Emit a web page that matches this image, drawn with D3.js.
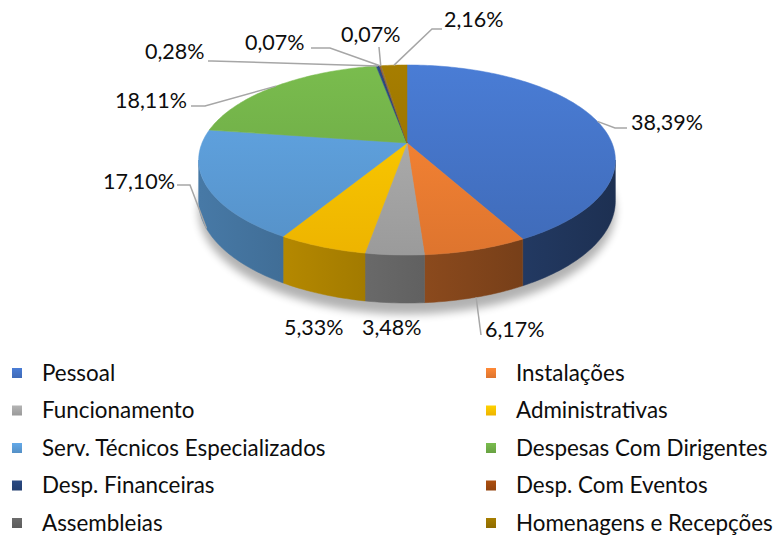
<!DOCTYPE html>
<html>
<head>
<meta charset="utf-8">
<script src="https://cdn.jsdelivr.net/npm/d3@7"></script>
<style>
  body { margin: 0; background: #fff; }
  svg text { font-family: Lato, "Open Sans", sans-serif; fill: #0d0d0d; }
</style>
</head>
<body>
<div id="chart"></div>
<script>
// data
const categories = ["Pessoal", "Instalações", "Funcionamento", "Administrativas",
  "Serv. Técnicos Especializados", "Despesas Com Dirigentes", "Desp. Financeiras",
  "Desp. Com Eventos", "Assembleias", "Homenagens e Recepções"];
const values = [38.39, 6.17, 3.48, 5.33, 17.10, 18.11, 0.28, 0.07, 0.07, 2.16];
const labels = ["38,39%", "6,17%", "3,48%", "5,33%", "17,10%", "18,11%", "0,28%", "0,07%", "0,07%", "2,16%"];
const colors = ["#4472C4", "#ED7D31", "#A5A5A5", "#FFC000", "#5B9BD5", "#70AD47",
  "#264478", "#9E480E", "#636363", "#997300"];

const width = 773, height = 536;

// 3d pie geometry (perspective tilt)
const cx = 407, cy = 143, RX = 205, RY = 92, depth = 39.4, persp = 0.179;
function proj(a, r, yb) {
  const X = r * Math.sin(a), Z = -r * Math.cos(a);
  const w = 1 - persp * Z;
  return [cx + RX * X / w, cy + (RY * Z + depth * yb) / w];
}
function rim(a0, a1, yb) {
  const n = Math.max(2, Math.ceil((a1 - a0) / 0.02));
  return d3.range(n + 1).map(i => proj(a0 + (a1 - a0) * i / n, 1, yb));
}

// label layout: text left/middle, and leader line (from slice rim to label)
const labelLayout = [
  { x: 631, y: 122, face: 0, line: [[615, 128], [627, 128]] },
  { x: 485, y: 329, face: 1, line: [[481, 335]] },
  { x: 362, y: 327, line: null },
  { x: 284, y: 327, line: null },
  { x: 103, y: 181, face: 1, line: [[190, 185], [177, 185]] },
  { x: 115, y: 100, face: 0, line: [[205, 106], [191, 106]] },
  { x: 145, y: 51, face: 0, line: [[212, 61], [208, 61]] },
  { x: 245, y: 42, face: 0, line: [[330, 48], [311, 48]] },
  { x: 341, y: 34, face: 0, line: [[379, 47]] },
  { x: 444, y: 19, face: 0, line: [[432, 29], [442, 29]] }
];

const svg = d3.select("#chart").append("svg")
  .attr("width", width).attr("height", height);
const defs = svg.append("defs");

const pie = d3.pie().sort(null).value(d => d)(values);

function scaleColor(c, f) {
  const k = d3.rgb(c);
  return d3.rgb(k.r * f, k.g * f, k.b * f).formatHex();
}

// gradients
colors.forEach((c, i) => {
  const g = defs.append("linearGradient").attr("id", "top" + i)
    .attr("gradientUnits", "userSpaceOnUse")
    .attr("x1", 0).attr("y1", 60).attr("x2", 0).attr("y2", 260);
  g.append("stop").attr("offset", 0).attr("stop-color", d3.color(c).brighter(0.25));
  g.append("stop").attr("offset", 1).attr("stop-color", d3.color(c).darker(0.2));

  const s = defs.append("linearGradient").attr("id", "side" + i)
    .attr("gradientUnits", "userSpaceOnUse")
    .attr("x1", 200).attr("y1", 0).attr("x2", 615).attr("y2", 0);
  s.append("stop").attr("offset", 0).attr("stop-color", scaleColor(c, 0.78));
  s.append("stop").attr("offset", 1).attr("stop-color", scaleColor(c, 0.42));

  const l = defs.append("linearGradient").attr("id", "leg" + i)
    .attr("x1", 0).attr("y1", 0).attr("x2", 0).attr("y2", 1);
  l.append("stop").attr("offset", 0).attr("stop-color", d3.color(c).brighter(0.25));
  l.append("stop").attr("offset", 1).attr("stop-color", d3.color(c).darker(0.2));
});

defs.append("filter").attr("id", "shadow")
  .attr("x", "-20%").attr("y", "-20%").attr("width", "140%").attr("height", "140%")
  .append("feGaussianBlur").attr("stdDeviation", 4);

const line = d3.line();

// shadow under the pie
const silA = Math.acos(-persp);
svg.append("path")
  .attr("d", line(rim(0, 2 * Math.PI, 1.15)) + "Z")
  .attr("transform", "translate(0,4)")
  .attr("fill", "#000").attr("opacity", 0.3)
  .attr("filter", "url(#shadow)");

// side walls (front-facing part only)
svg.append("g").selectAll("path")
  .data(pie.filter(d => d.endAngle > silA && d.startAngle < 2 * Math.PI - silA))
  .join("path")
  .attr("d", d => {
    const a0 = Math.max(d.startAngle, silA), a1 = Math.min(d.endAngle, 2 * Math.PI - silA);
    const pts = rim(a0, a1, 0).concat(rim(a0, a1, 1).reverse());
    return line(pts) + "Z";
  })
  .attr("fill", d => `url(#side${d.index})`)
  .attr("stroke", d => `url(#side${d.index})`).attr("stroke-width", 0.5);

// top faces
svg.append("g").selectAll("path")
  .data(pie)
  .join("path")
  .attr("d", d => line([[cx, cy]].concat(rim(d.startAngle, d.endAngle, 0))) + "Z")
  .attr("fill", d => `url(#top${d.index})`)
  .attr("stroke", d => `url(#top${d.index})`).attr("stroke-width", 0.5);

// leader lines
svg.append("g").selectAll("path")
  .data(pie.filter(d => labelLayout[d.index].line))
  .join("path")
  .attr("d", d => {
    const L = labelLayout[d.index];
    const mid = (d.startAngle + d.endAngle) / 2;
    return line([proj(mid, 1, L.face)].concat(L.line));
  })
  .attr("fill", "none").attr("stroke", "#A6A6A6").attr("stroke-width", 1.5);

// data labels
svg.append("g").selectAll("text")
  .data(pie)
  .join("text")
  .attr("x", d => labelLayout[d.index].x)
  .attr("y", d => labelLayout[d.index].y)
  .attr("dy", "0.35em")
  .attr("font-size", 21.5)
  .text(d => labels[d.index]);

// legend
const legX = d3.scalePoint().domain([0, 1]).range([12, 486]);
const legY = d3.scalePoint().domain(d3.range(5)).range([373, 523]);
const leg = svg.append("g").selectAll("g")
  .data(categories)
  .join("g")
  .attr("transform", (d, i) => `translate(${legX(i % 2)},${legY(Math.floor(i / 2))})`);
leg.append("rect")
  .attr("x", 0).attr("y", -5).attr("width", 10).attr("height", 10)
  .attr("fill", (d, i) => `url(#leg${i})`);
leg.append("text")
  .attr("x", 30).attr("dy", "0.35em")
  .attr("font-size", 22.4)
  .text(d => d);
</script>
</body>
</html>
